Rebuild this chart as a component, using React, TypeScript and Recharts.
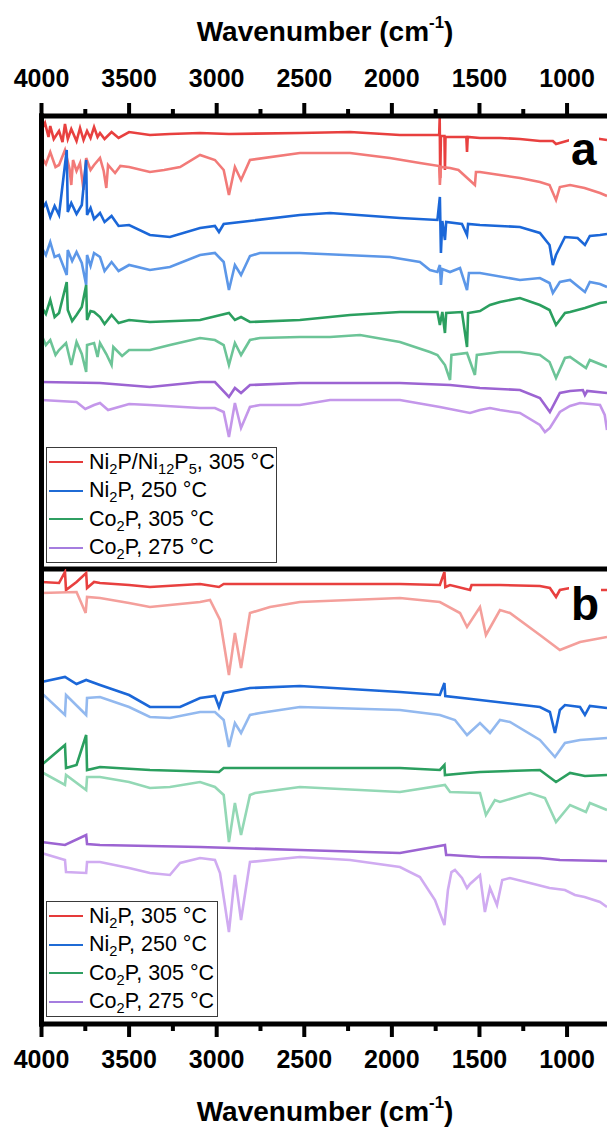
import React from 'react'
import { LineChart, Line, XAxis, YAxis, Legend } from 'recharts'

type Pair = [number, number]

// wavenumber ticks (cm-1); multiples of 500 get a label
const axisTicks = [4000, 3750, 3500, 3250, 3000, 2750, 2500, 2250, 2000, 1750, 1500, 1250, 1000]

// panel a, [wavenumber, offset transmittance a.u.]
const aRedUpper: Pair[] = [
  [4000, 439], [3980, 446], [3960, 432], [3950, 443], [3930, 430], [3900, 438], [3880, 427], [3866, 445],
  [3850, 430], [3830, 440], [3800, 428], [3780, 441], [3760, 429], [3740, 438], [3720, 431], [3700, 442],
  [3680, 432], [3666, 436], [3640, 430], [3600, 437], [3560, 431], [3500, 437], [3381, 434], [3267, 435],
  [3095, 436], [2930, 435], [2525, 436], [2239, 437], [1954, 434], [1730, 434], [1727, 451], [1724, 391],
  [1720, 433], [1700, 433], [1697, 399], [1694, 432], [1640, 432], [1575, 432], [1571, 417], [1567, 432],
  [1497, 431], [1383, 431], [1269, 430], [1155, 428], [1081, 428], [1063, 425], [983, 429], [850, 431],
  [772, 429],
]
const aRedLower: Pair[] = [
  [4000, 412], [3975, 405], [3950, 417], [3920, 402], [3900, 404], [3866, 419], [3840, 400], [3830, 384],
  [3820, 409], [3800, 398], [3780, 406], [3760, 379], [3745, 411], [3720, 399], [3700, 404], [3666, 411],
  [3645, 398], [3630, 381], [3620, 404], [3580, 396], [3550, 403], [3500, 402], [3381, 397], [3300, 399],
  [3209, 402], [3095, 414], [3010, 409], [2960, 399], [2930, 374], [2896, 402], [2861, 389], [2810, 409],
  [2525, 416], [2239, 416], [2011, 411], [1840, 406], [1730, 403], [1726, 384], [1720, 402], [1668, 401],
  [1620, 399], [1526, 384], [1520, 397], [1497, 397], [1383, 394], [1269, 391], [1155, 387], [1100, 384],
  [1063, 369], [1041, 382], [983, 384], [900, 381], [812, 376], [772, 373],
]
const aBlueUpper: Pair[] = [
  [4000, 359], [3975, 366], [3950, 352], [3925, 363], [3900, 354], [3856, 419], [3850, 357], [3830, 366],
  [3800, 355], [3770, 364], [3745, 409], [3740, 354], [3720, 361], [3700, 350], [3666, 356], [3640, 347],
  [3600, 353], [3560, 343], [3500, 344], [3381, 334], [3267, 332], [3095, 341], [3010, 343], [2987, 337],
  [2960, 345], [2525, 354], [2353, 356], [1954, 351], [1740, 349], [1726, 372], [1720, 316], [1712, 348],
  [1697, 329], [1690, 347], [1600, 345], [1571, 334], [1565, 345], [1497, 344], [1269, 342], [1155, 336],
  [1100, 324], [1081, 304], [1063, 314], [1012, 332], [940, 331], [898, 324], [870, 333], [812, 334],
  [772, 335],
]
const aBlueLower: Pair[] = [
  [4000, 322], [3975, 314], [3950, 327], [3925, 312], [3900, 314], [3856, 294], [3850, 319], [3825, 308],
  [3800, 317], [3770, 306], [3745, 284], [3740, 314], [3720, 303], [3700, 316], [3666, 312], [3640, 298],
  [3600, 307], [3560, 298], [3500, 304], [3381, 299], [3267, 302], [3095, 314], [3010, 316], [2960, 307],
  [2930, 279], [2896, 304], [2861, 294], [2810, 313], [2753, 316], [2525, 316], [2011, 312], [1840, 307],
  [1783, 299], [1740, 297], [1726, 304], [1720, 284], [1712, 300], [1668, 297], [1611, 301], [1571, 279],
  [1560, 296], [1497, 296], [1269, 289], [1155, 291], [1100, 286], [1081, 276], [1041, 287], [983, 289],
  [898, 277], [870, 287], [812, 285], [772, 282],
]
const aGreenUpper: Pair[] = [
  [4000, 262], [3975, 255], [3950, 269], [3925, 252], [3900, 256], [3856, 287], [3850, 259], [3825, 248],
  [3800, 254], [3770, 262], [3745, 284], [3740, 249], [3720, 258], [3700, 257], [3666, 252], [3640, 245],
  [3600, 254], [3560, 246], [3500, 249], [3381, 247], [3095, 249], [2930, 256], [2896, 249], [2861, 252],
  [2810, 247], [2525, 249], [2239, 254], [1954, 257], [1740, 257], [1726, 244], [1712, 257], [1697, 236],
  [1690, 256], [1600, 257], [1571, 222], [1565, 256], [1497, 258], [1440, 264], [1383, 267], [1269, 271],
  [1155, 264], [1100, 259], [1063, 244], [1012, 256], [983, 257], [898, 261], [812, 266], [772, 267],
]
const aGreenLower: Pair[] = [
  [4000, 234], [3975, 224], [3950, 229], [3920, 214], [3900, 219], [3860, 226], [3830, 204], [3800, 227],
  [3770, 215], [3745, 197], [3740, 224], [3700, 226], [3680, 212], [3666, 226], [3630, 215], [3600, 204],
  [3590, 222], [3540, 213], [3500, 219], [3381, 219], [3267, 224], [3095, 231], [3010, 229], [2960, 224],
  [2930, 204], [2896, 226], [2861, 214], [2810, 229], [2753, 231], [2525, 232], [2353, 232], [2182, 234],
  [1954, 227], [1783, 217], [1740, 214], [1697, 204], [1668, 189], [1660, 214], [1571, 216], [1526, 194],
  [1515, 214], [1383, 217], [1269, 217], [1155, 214], [1100, 207], [1063, 191], [1012, 211], [983, 212],
  [892, 201], [870, 209], [772, 202],
]
const aPurpleUpper: Pair[] = [
  [4000, 187], [3666, 186], [3381, 182], [3095, 187], [3010, 187], [2930, 172], [2896, 181], [2861, 176],
  [2810, 184], [2525, 186], [1954, 186], [1668, 184], [1497, 181], [1269, 179], [1155, 171], [1098, 157],
  [1041, 176], [983, 178], [910, 179], [898, 174], [885, 178], [772, 176],
]
const aPurpleLower: Pair[] = [
  [4000, 169], [3800, 167], [3750, 160], [3700, 164], [3666, 166], [3620, 159], [3500, 165], [3381, 164],
  [3095, 161], [3010, 161], [2960, 157], [2930, 132], [2896, 166], [2861, 141], [2810, 162], [2753, 164],
  [2525, 164], [2353, 169], [1954, 169], [1726, 162], [1554, 156], [1497, 159], [1440, 161], [1383, 159],
  [1269, 156], [1155, 144], [1126, 137], [1098, 141], [1041, 157], [983, 163], [926, 166], [812, 164],
  [785, 154], [772, 139],
]

// panel b
const bRedUpper: Pair[] = [
  [4000, 442], [3900, 441], [3866, 452], [3860, 434], [3800, 442], [3745, 451], [3740, 436], [3700, 442],
  [3666, 441], [3500, 439], [3381, 437], [3095, 440], [2987, 437], [2960, 440], [2525, 440], [1954, 440],
  [1726, 439], [1700, 452], [1695, 437], [1668, 439], [1554, 434], [1545, 439], [1383, 439], [1155, 438],
  [1098, 436], [1063, 427], [1041, 434], [983, 436], [812, 434], [772, 434],
]
const bRedLower: Pair[] = [
  [4000, 431], [3800, 432], [3748, 411], [3740, 427], [3666, 426], [3500, 421], [3381, 417], [3267, 419],
  [3095, 422], [3038, 424], [2981, 404], [2930, 349], [2896, 391], [2861, 356], [2810, 411], [2696, 417],
  [2525, 422], [1954, 426], [1726, 422], [1611, 411], [1571, 397], [1497, 417], [1463, 389], [1383, 414],
  [1326, 411], [1155, 389], [1041, 374], [926, 382], [772, 387],
]
const bBlueUpper: Pair[] = [
  [4000, 342], [3866, 347], [3800, 340], [3745, 344], [3666, 339], [3500, 329], [3381, 317], [3209, 317],
  [3095, 326], [3010, 328], [2987, 317], [2960, 331], [2810, 336], [2525, 338], [1954, 332], [1726, 329],
  [1700, 341], [1695, 328], [1497, 324], [1155, 317], [1098, 312], [1069, 291], [1041, 314], [1012, 319],
  [926, 317], [898, 309], [870, 318], [772, 316],
]
const bBlueLower: Pair[] = [
  [4000, 331], [3866, 309], [3860, 329], [3745, 309], [3740, 326], [3666, 327], [3500, 317], [3381, 307],
  [3267, 306], [3095, 312], [3010, 312], [2960, 304], [2930, 277], [2896, 301], [2861, 291], [2810, 309],
  [2753, 311], [2525, 317], [1954, 314], [1726, 309], [1640, 304], [1571, 289], [1497, 301], [1440, 291],
  [1383, 304], [1326, 302], [1155, 284], [1069, 267], [1012, 281], [926, 284], [772, 286],
]
const bGreenUpper: Pair[] = [
  [4000, 259], [3866, 279], [3860, 256], [3800, 259], [3745, 289], [3740, 254], [3666, 257], [3381, 254],
  [2987, 252], [2960, 256], [2525, 256], [1954, 256], [1726, 254], [1700, 259], [1697, 249], [1571, 251],
  [1497, 252], [1155, 254], [1063, 242], [983, 251], [898, 248], [772, 249],
]
const bGreenLower: Pair[] = [
  [4000, 252], [3866, 239], [3860, 249], [3745, 234], [3740, 247], [3666, 247], [3500, 242], [3381, 236],
  [3267, 237], [3095, 242], [3010, 237], [2960, 229], [2930, 182], [2896, 221], [2861, 189], [2810, 229],
  [2781, 231], [2525, 237], [1954, 232], [1697, 239], [1668, 232], [1497, 231], [1463, 209], [1412, 224],
  [1383, 222], [1212, 231], [1126, 226], [1063, 202], [983, 219], [892, 212], [870, 221], [772, 214],
]
const bPurpleUpper: Pair[] = [
  [4000, 182], [3866, 179], [3745, 189], [3740, 180], [3666, 179], [3095, 177], [2525, 174], [1954, 171],
  [1697, 179], [1690, 169], [1668, 169], [1497, 167], [1155, 166], [1041, 164], [772, 163],
]
const bPurpleLower: Pair[] = [
  [4000, 171], [3866, 164], [3860, 152], [3745, 151], [3740, 162], [3666, 162], [3500, 156], [3381, 151],
  [3267, 149], [3209, 161], [3095, 166], [3010, 164], [2981, 151], [2930, 92], [2896, 149], [2861, 104],
  [2810, 162], [2525, 167], [2239, 164], [1954, 157], [1840, 147], [1754, 124], [1700, 99], [1680, 134],
  [1660, 152], [1640, 154], [1600, 146], [1571, 136], [1554, 140], [1497, 149], [1469, 112], [1440, 136],
  [1400, 119], [1370, 144], [1326, 146], [1212, 141], [1100, 136], [1012, 134], [955, 129], [900, 127],
  [812, 122], [772, 117],
]

// legend labels, _{..} is a subscript
const legendA = ['Ni_{2}P/Ni_{12}P_{5}, 305 °C', 'Ni_{2}P, 250 °C', 'Co_{2}P, 305 °C', 'Co_{2}P, 275 °C']
const legendB = ['Ni_{2}P, 305 °C', 'Ni_{2}P, 250 °C', 'Co_{2}P, 305 °C', 'Co_{2}P, 275 °C']
const legendColors = ['#e53a3a', '#1f6bd5', '#2f9f62', '#a57ddf']

const upperColors = ['#e8403f', '#1b67d8', '#2b9f5f', '#9c64d2']
const lowerColorsA = ['#f27a78', '#5c97e8', '#6cc497', '#c497ea']
const lowerColorsB = ['#f49f9b', '#93b9ef', '#93d8b5', '#d0abf1']

const W = 607
const X_DOMAIN: [number, number] = [772, 4000]
const FONT = '"Liberation Sans", Arial, sans-serif'
const AXIS = { stroke: '#000', strokeWidth: 5, strokeLinecap: 'square' as const }

const toPts = (arr: Pair[]) => arr.map(([w, v]) => ({ w, v }))

// tick mark + label drawn from the axis line outward
function makeTick(orientation: 'top' | 'bottom') {
  return function AxisTick(props: any) {
    const { x, y, payload } = props
    const major = payload.value % 500 === 0
    const dir = orientation === 'top' ? -1 : 1
    return (
      <g>
        <line x1={x} x2={x} y1={y} y2={y + dir * (major ? 13 : 7)} stroke="#000" strokeWidth={4} />
        {major && (
          <text
            x={x} y={orientation === 'top' ? y - 29 : y + 44} textAnchor="middle"
            fill="#000" fontSize={25} fontWeight={700} fontFamily={FONT}
          >
            {payload.value}
          </text>
        )}
      </g>
    )
  }
}

function Chem({ text }: { text: string }) {
  const parts = text.split(/_\{([^}]*)\}/)
  return (
    <>
      {parts.map((p, i) =>
        i % 2 ? (
          <sub key={i} style={{ fontSize: '0.68em', verticalAlign: 'baseline', position: 'relative', top: '0.35em', lineHeight: 0 }}>
            {p}
          </sub>
        ) : (
          <React.Fragment key={i}>{p}</React.Fragment>
        ),
      )}
    </>
  )
}

function SpecLegend({ labels, width }: { labels: string[]; width: number }) {
  return (
    <div
      style={{
        width, boxSizing: 'border-box', border: '1px solid #3a3a3a', background: '#fff',
        padding: '0 0 0 2px', fontFamily: FONT, fontSize: 21.5, color: '#000',
      }}
    >
      {labels.map((l, i) => (
        <div key={l} style={{ display: 'flex', alignItems: 'center', height: 28.5, whiteSpace: 'nowrap' }}>
          <span style={{ display: 'inline-block', width: 34, borderTop: `2.5px solid ${legendColors[i]}`, marginRight: 6 }} />
          <span style={{ lineHeight: '21px' }}><Chem text={l} /></span>
        </div>
      ))}
    </div>
  )
}

interface PanelProps {
  top: number
  height: number
  margin: { top: number; right: number; bottom: number; left: number }
  yMax: number
  upper: Pair[][]
  lower: Pair[][]
  lowerColors: string[]
  orientation: 'top' | 'bottom'
  labels: string[]
  legendTop: number
  legendWidth: number
}

function Panel({ top, height, margin, yMax, upper, lower, lowerColors, orientation, labels, legendTop, legendWidth }: PanelProps) {
  const traces = upper.flatMap((u, i) => [
    { data: u, color: upperColors[i] },
    { data: lower[i], color: lowerColors[i] },
  ])
  return (
    <div style={{ position: 'absolute', left: 0, top }}>
      <LineChart width={W} height={height} margin={margin}>
        <XAxis
          xAxisId="main" dataKey="w" type="number" domain={X_DOMAIN} reversed allowDataOverflow
          orientation={orientation} ticks={axisTicks} interval={0} height={1}
          axisLine={AXIS} tickLine={false} tickSize={0} tickMargin={0} tick={makeTick(orientation)}
        />
        {orientation === 'top' && (
          <XAxis
            xAxisId="sep" dataKey="w" type="number" domain={X_DOMAIN} reversed allowDataOverflow
            orientation="bottom" height={1} axisLine={AXIS} tickLine={false} tick={false}
          />
        )}
        <YAxis
          yAxisId="y" type="number" domain={[0, yMax]} allowDataOverflow width={1}
          tick={false} tickLine={false} axisLine={AXIS}
        />
        {traces.map((t, i) => (
          <Line
            key={i} xAxisId="main" yAxisId="y" data={toPts(t.data)} dataKey="v" type="linear"
            stroke={t.color} strokeWidth={2.6} dot={false} activeDot={false} isAnimationActive={false}
          />
        ))}
        <Legend
          layout="vertical" align="center" verticalAlign="middle"
          wrapperStyle={{ left: 46, top: legendTop, width: legendWidth }}
          content={() => <SpecLegend labels={labels} width={legendWidth} />}
        />
      </LineChart>
    </div>
  )
}

const titleStyle: React.CSSProperties = {
  position: 'absolute', left: 0, width: 650, textAlign: 'center', fontFamily: FONT,
  fontWeight: 700, fontSize: 28, lineHeight: '28px', color: '#000', whiteSpace: 'nowrap',
}
const supStyle: React.CSSProperties = {
  fontSize: '0.6em', verticalAlign: 'baseline', position: 'relative', top: '-0.75em', lineHeight: 0,
}
const panelLabelStyle: React.CSSProperties = {
  position: 'absolute', left: 569, fontFamily: FONT, fontWeight: 700, fontSize: 46,
  lineHeight: '46px', background: '#fff', padding: '0 2px', color: '#000',
}

export default function App() {
  return (
    <div style={{ position: 'absolute', left: 0, top: 0, width: W, height: 1127, background: '#fff', overflow: 'hidden' }}>
      <Panel
        top={0} height={572} margin={{ top: 115, right: 0, bottom: 2, left: 40.5 }} yMax={453}
        upper={[aRedUpper, aBlueUpper, aGreenUpper, aPurpleUpper]}
        lower={[aRedLower, aBlueLower, aGreenLower, aPurpleLower]}
        lowerColors={lowerColorsA} orientation="top" labels={legendA} legendTop={447} legendWidth={231}
      />
      <Panel
        top={560} height={567} margin={{ top: 9, right: 0, bottom: 102, left: 40.5 }} yMax={455}
        upper={[bRedUpper, bBlueUpper, bGreenUpper, bPurpleUpper]}
        lower={[bRedLower, bBlueLower, bGreenLower, bPurpleLower]}
        lowerColors={lowerColorsB} orientation="bottom" labels={legendB} legendTop={341} legendWidth={172}
      />
      <div style={{ ...titleStyle, top: 18 }}>
        Wavenumber (cm<sup style={supStyle}>-1</sup>)
      </div>
      <div style={{ ...titleStyle, top: 1098 }}>
        Wavenumber (cm<sup style={supStyle}>-1</sup>)
      </div>
      <div style={{ ...panelLabelStyle, top: 126 }}>a</div>
      <div style={{ ...panelLabelStyle, top: 581 }}>b</div>
    </div>
  )
}
